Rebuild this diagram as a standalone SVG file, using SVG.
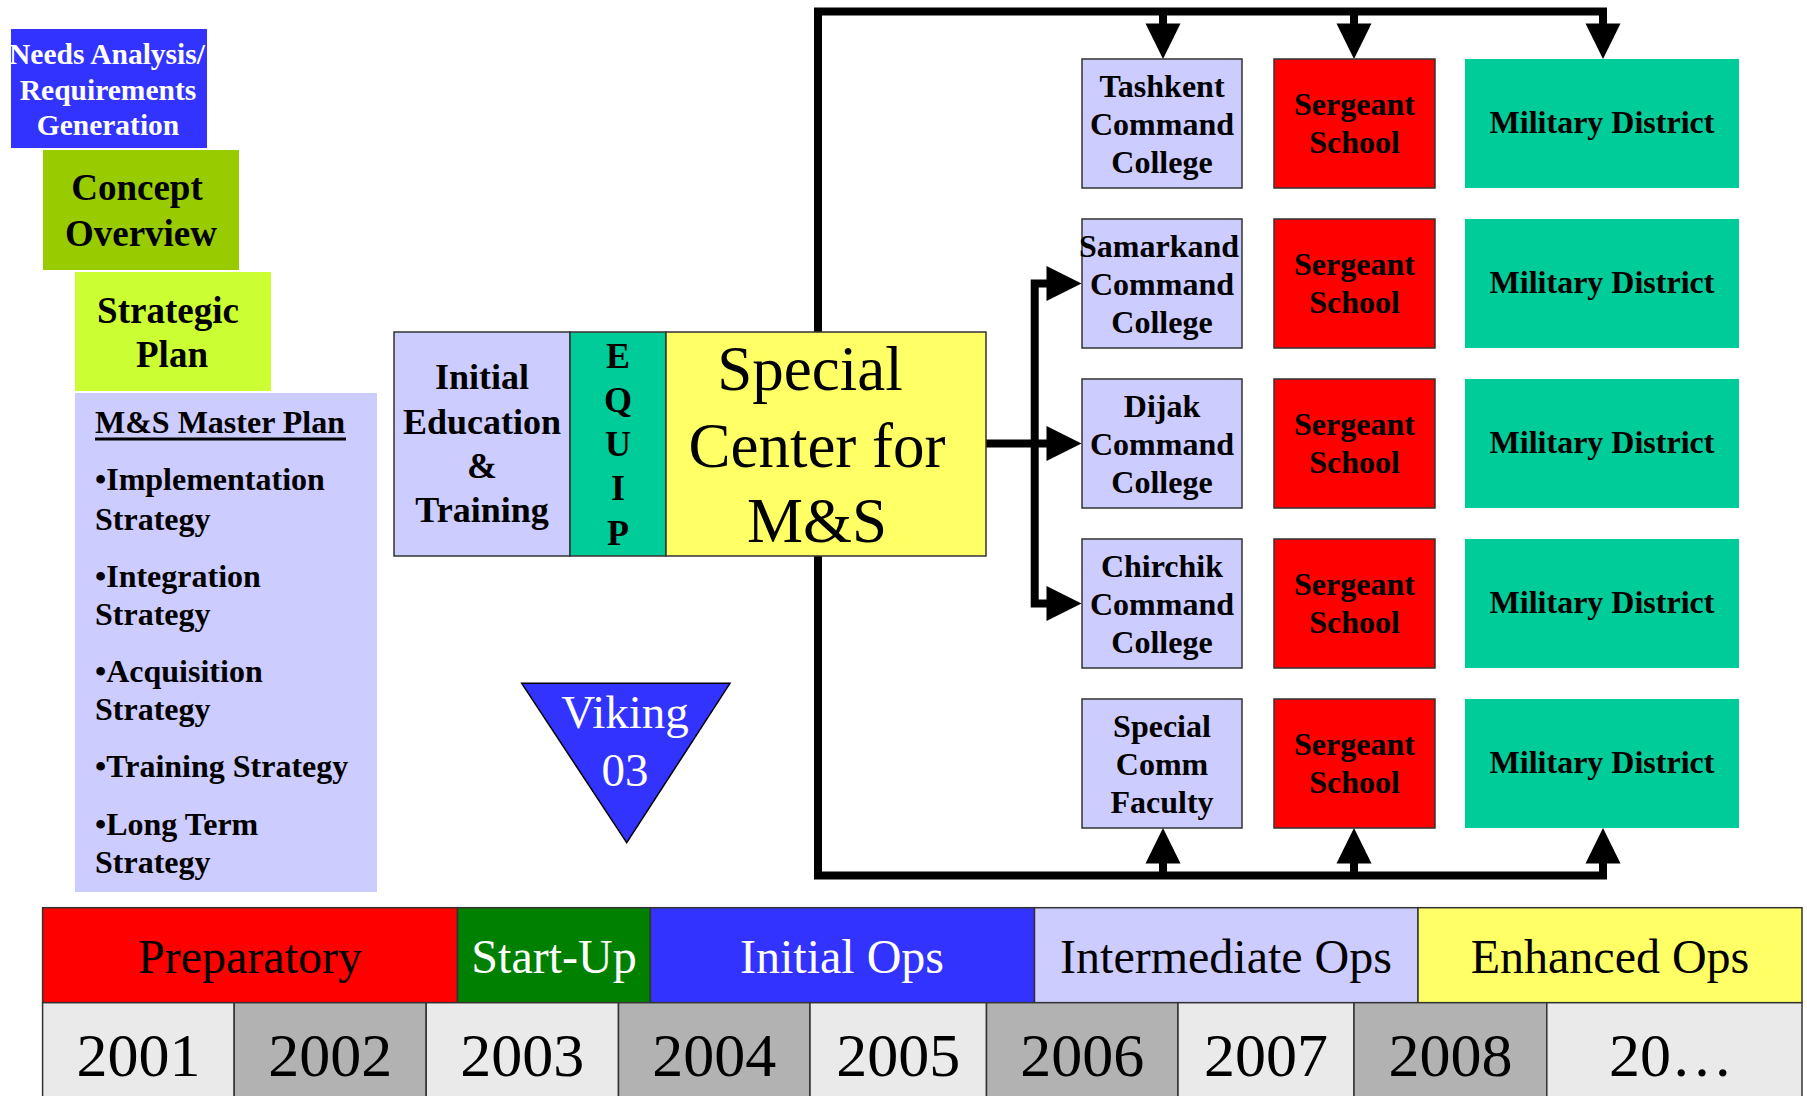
<svg xmlns="http://www.w3.org/2000/svg" width="1807" height="1096" viewBox="0 0 1807 1096">
<defs>
<style>
.b{font-family:"Liberation Serif","Times New Roman",serif;font-weight:bold;text-anchor:middle}
.r{font-family:"Liberation Serif","Times New Roman",serif;text-anchor:middle}
.lft{font-family:"Liberation Serif","Times New Roman",serif;font-weight:bold;font-size:32px}
.box{stroke:#333;stroke-width:1.5}
.cc{fill:#CCCCFF}
.ss{fill:#FF0000}
.md{fill:#00CC99}
.conn{fill:none;stroke:#000;stroke-width:8;stroke-linejoin:miter}
.ah{fill:#000}
.rt{font-size:32px}
.ph{font-size:48px}
.yr{font-size:62px}
</style>
</defs>
<rect width="1807" height="1096" fill="#fff"/>

<g id="needs">
<rect x="11" y="29" width="196" height="119" fill="#3333FF"/>
<text class="b" fill="#fff" font-size="29.5"><tspan x="107" y="64">Needs Analysis/</tspan><tspan x="108" y="99.5">Requirements</tspan><tspan x="108" y="135">Generation</tspan></text>
</g>
<g id="concept">
<rect x="43" y="150" width="196" height="120" fill="#99CC00"/>
<text class="b" font-size="37"><tspan x="137" y="200">Concept</tspan><tspan x="141" y="246">Overview</tspan></text>
</g>
<g id="strategic">
<rect x="75" y="272" width="196" height="119" fill="#CCFF33"/>
<text class="b" font-size="37"><tspan x="168" y="323">Strategic</tspan><tspan x="172" y="367">Plan</tspan></text>
</g>
<g id="masterplan">
<rect x="75" y="393" width="302" height="499" fill="#CCCCFF"/>
<text class="lft" x="95" y="433">M&amp;S Master Plan</text>
<rect x="95" y="437.5" width="251" height="3" fill="#000"/>
<text class="lft"><tspan x="95" y="490">•Implementation</tspan><tspan x="95" y="530">Strategy</tspan><tspan x="95" y="587">•Integration</tspan><tspan x="95" y="625">Strategy</tspan><tspan x="95" y="682">•Acquisition</tspan><tspan x="95" y="720">Strategy</tspan><tspan x="95" y="777">•Training Strategy</tspan><tspan x="95" y="835">•Long Term</tspan><tspan x="95" y="873">Strategy</tspan></text>
</g>

<g id="connectors">
<path class="conn" d="M818,332 V11.5 H1603 V24 M1163,11.5 V24 M1354,11.5 V24"/>
<path class="conn" d="M818,556 V875.5 H1603 V863 M1163,875.5 V863 M1354,875.5 V863"/>
<path class="conn" d="M986,443.5 H1047 M1047,283.5 H1034.7 V603.5 H1047"/>
<polygon class="ah" points="1145.5,23.5 1180.5,23.5 1163,59"/>
<polygon class="ah" points="1336.5,23.5 1371.5,23.5 1354,59"/>
<polygon class="ah" points="1585.5,23.5 1620.5,23.5 1603,59"/>
<polygon class="ah" points="1145.5,863.5 1180.5,863.5 1163,828"/>
<polygon class="ah" points="1336.5,863.5 1371.5,863.5 1354,828"/>
<polygon class="ah" points="1585.5,863.5 1620.5,863.5 1603,828"/>
<polygon class="ah" points="1046.5,266 1046.5,301 1081.5,283.5"/>
<polygon class="ah" points="1046.5,426 1046.5,461 1081.5,443.5"/>
<polygon class="ah" points="1046.5,586 1046.5,621 1081.5,603.5"/>
</g>

<g id="initial">
<rect class="box" x="394" y="332" width="176" height="224" fill="#CCCCFF"/>
<text class="b" font-size="36"><tspan x="482" y="389">Initial</tspan><tspan x="482" y="434">Education</tspan><tspan x="482" y="478">&amp;</tspan><tspan x="482" y="522">Training</tspan></text>
</g>
<g id="equip">
<rect class="box" x="570" y="332" width="96" height="224" fill="#00CC99"/>
<text class="b" font-size="36"><tspan x="618" y="367.7">E</tspan><tspan x="618" y="411.9">Q</tspan><tspan x="618" y="456.1">U</tspan><tspan x="618" y="500.3">I</tspan><tspan x="618" y="544.5">P</tspan></text>
</g>
<g id="special-center">
<rect class="box" x="666" y="332" width="320" height="224" fill="#FFFF66"/>
<text class="r" font-size="63"><tspan x="810" y="390">Special</tspan><tspan x="817" y="467">Center for</tspan><tspan x="817" y="542">M&amp;S</tspan></text>
</g>

<g id="tashkent">
<rect class="box cc" x="1082" y="59" width="160" height="129"/>
<text class="b rt"><tspan x="1162" y="96.5">Tashkent</tspan><tspan x="1162" y="135">Command</tspan><tspan x="1162" y="173">College</tspan></text>
</g>
<g id="sergeant1">
<rect class="box ss" x="1274" y="59" width="161" height="129"/>
<text class="b rt"><tspan x="1354.5" y="114.5">Sergeant</tspan><tspan x="1354.5" y="152.5">School</tspan></text>
</g>
<g id="district1">
<rect class="md" x="1465" y="59" width="274" height="129"/>
<text class="b rt" x="1602" y="133">Military District</text>
</g>

<g id="samarkand">
<rect class="box cc" x="1082" y="219" width="160" height="129"/>
<text class="b rt"><tspan x="1159" y="256.5">Samarkand</tspan><tspan x="1162" y="295">Command</tspan><tspan x="1162" y="333">College</tspan></text>
</g>
<g id="sergeant2">
<rect class="box ss" x="1274" y="219" width="161" height="129"/>
<text class="b rt"><tspan x="1354.5" y="274.5">Sergeant</tspan><tspan x="1354.5" y="312.5">School</tspan></text>
</g>
<g id="district2">
<rect class="md" x="1465" y="219" width="274" height="129"/>
<text class="b rt" x="1602" y="293">Military District</text>
</g>

<g id="dijak">
<rect class="box cc" x="1082" y="379" width="160" height="129"/>
<text class="b rt"><tspan x="1162" y="416.5">Dijak</tspan><tspan x="1162" y="455">Command</tspan><tspan x="1162" y="493">College</tspan></text>
</g>
<g id="sergeant3">
<rect class="box ss" x="1274" y="379" width="161" height="129"/>
<text class="b rt"><tspan x="1354.5" y="434.5">Sergeant</tspan><tspan x="1354.5" y="472.5">School</tspan></text>
</g>
<g id="district3">
<rect class="md" x="1465" y="379" width="274" height="129"/>
<text class="b rt" x="1602" y="453">Military District</text>
</g>

<g id="chirchik">
<rect class="box cc" x="1082" y="539" width="160" height="129"/>
<text class="b rt"><tspan x="1162" y="576.5">Chirchik</tspan><tspan x="1162" y="615">Command</tspan><tspan x="1162" y="653">College</tspan></text>
</g>
<g id="sergeant4">
<rect class="box ss" x="1274" y="539" width="161" height="129"/>
<text class="b rt"><tspan x="1354.5" y="594.5">Sergeant</tspan><tspan x="1354.5" y="632.5">School</tspan></text>
</g>
<g id="district4">
<rect class="md" x="1465" y="539" width="274" height="129"/>
<text class="b rt" x="1602" y="613">Military District</text>
</g>

<g id="specialcomm">
<rect class="box cc" x="1082" y="699" width="160" height="129"/>
<text class="b rt"><tspan x="1162" y="736.5">Special</tspan><tspan x="1162" y="775">Comm</tspan><tspan x="1162" y="813">Faculty</tspan></text>
</g>
<g id="sergeant5">
<rect class="box ss" x="1274" y="699" width="161" height="129"/>
<text class="b rt"><tspan x="1354.5" y="754.5">Sergeant</tspan><tspan x="1354.5" y="792.5">School</tspan></text>
</g>
<g id="district5">
<rect class="md" x="1465" y="699" width="274" height="129"/>
<text class="b rt" x="1602" y="773">Military District</text>
</g>

<g id="viking">
<polygon points="521.7,683.3 730,683.3 626.7,842.7" fill="#3333FF" stroke="#000" stroke-width="1.5"/>
<text class="r" fill="#fff" font-size="47"><tspan x="625" y="728">Viking</tspan><tspan x="625" y="786">03</tspan></text>
</g>

<g id="phases">
<rect class="box" x="42.6" y="907.7" width="414.9" height="95" fill="#FF0000"/>
<rect class="box" x="457.5" y="907.7" width="192.9" height="95" fill="#008000"/>
<rect class="box" x="650.4" y="907.7" width="384.1" height="95" fill="#3333FF"/>
<rect class="box" x="1034.5" y="907.7" width="383.5" height="95" fill="#CCCCFF"/>
<rect class="box" x="1418" y="907.7" width="384" height="95" fill="#FFFF66"/>
<text class="r ph" x="250" y="973">Preparatory</text>
<text class="r ph" x="554" y="973" fill="#fff">Start-Up</text>
<text class="r ph" x="842" y="973" fill="#fff">Initial Ops</text>
<text class="r ph" x="1226" y="973">Intermediate Ops</text>
<text class="r ph" x="1610" y="973">Enhanced Ops</text>
</g>

<g id="years">
<rect class="box" x="42.6" y="1002.7" width="191.6" height="100" fill="#EAEAEA"/>
<rect class="box" x="234.2" y="1002.7" width="192" height="100" fill="#B2B2B2"/>
<rect class="box" x="426.2" y="1002.7" width="192.3" height="100" fill="#EAEAEA"/>
<rect class="box" x="618.5" y="1002.7" width="191.5" height="100" fill="#B2B2B2"/>
<rect class="box" x="810" y="1002.7" width="176.5" height="100" fill="#EAEAEA"/>
<rect class="box" x="986.5" y="1002.7" width="191.5" height="100" fill="#B2B2B2"/>
<rect class="box" x="1178" y="1002.7" width="176" height="100" fill="#EAEAEA"/>
<rect class="box" x="1354" y="1002.7" width="192.8" height="100" fill="#B2B2B2"/>
<rect class="box" x="1546.8" y="1002.7" width="255.2" height="100" fill="#EAEAEA"/>
<text class="r yr" x="138.4" y="1076">2001</text>
<text class="r yr" x="330.2" y="1076">2002</text>
<text class="r yr" x="522.3" y="1076">2003</text>
<text class="r yr" x="714.2" y="1076">2004</text>
<text class="r yr" x="898.2" y="1076">2005</text>
<text class="r yr" x="1082.2" y="1076">2006</text>
<text class="r yr" x="1266" y="1076">2007</text>
<text class="r yr" x="1450.4" y="1076">2008</text>
<text class="r yr" x="1671" y="1076">20…</text>
</g>
</svg>
